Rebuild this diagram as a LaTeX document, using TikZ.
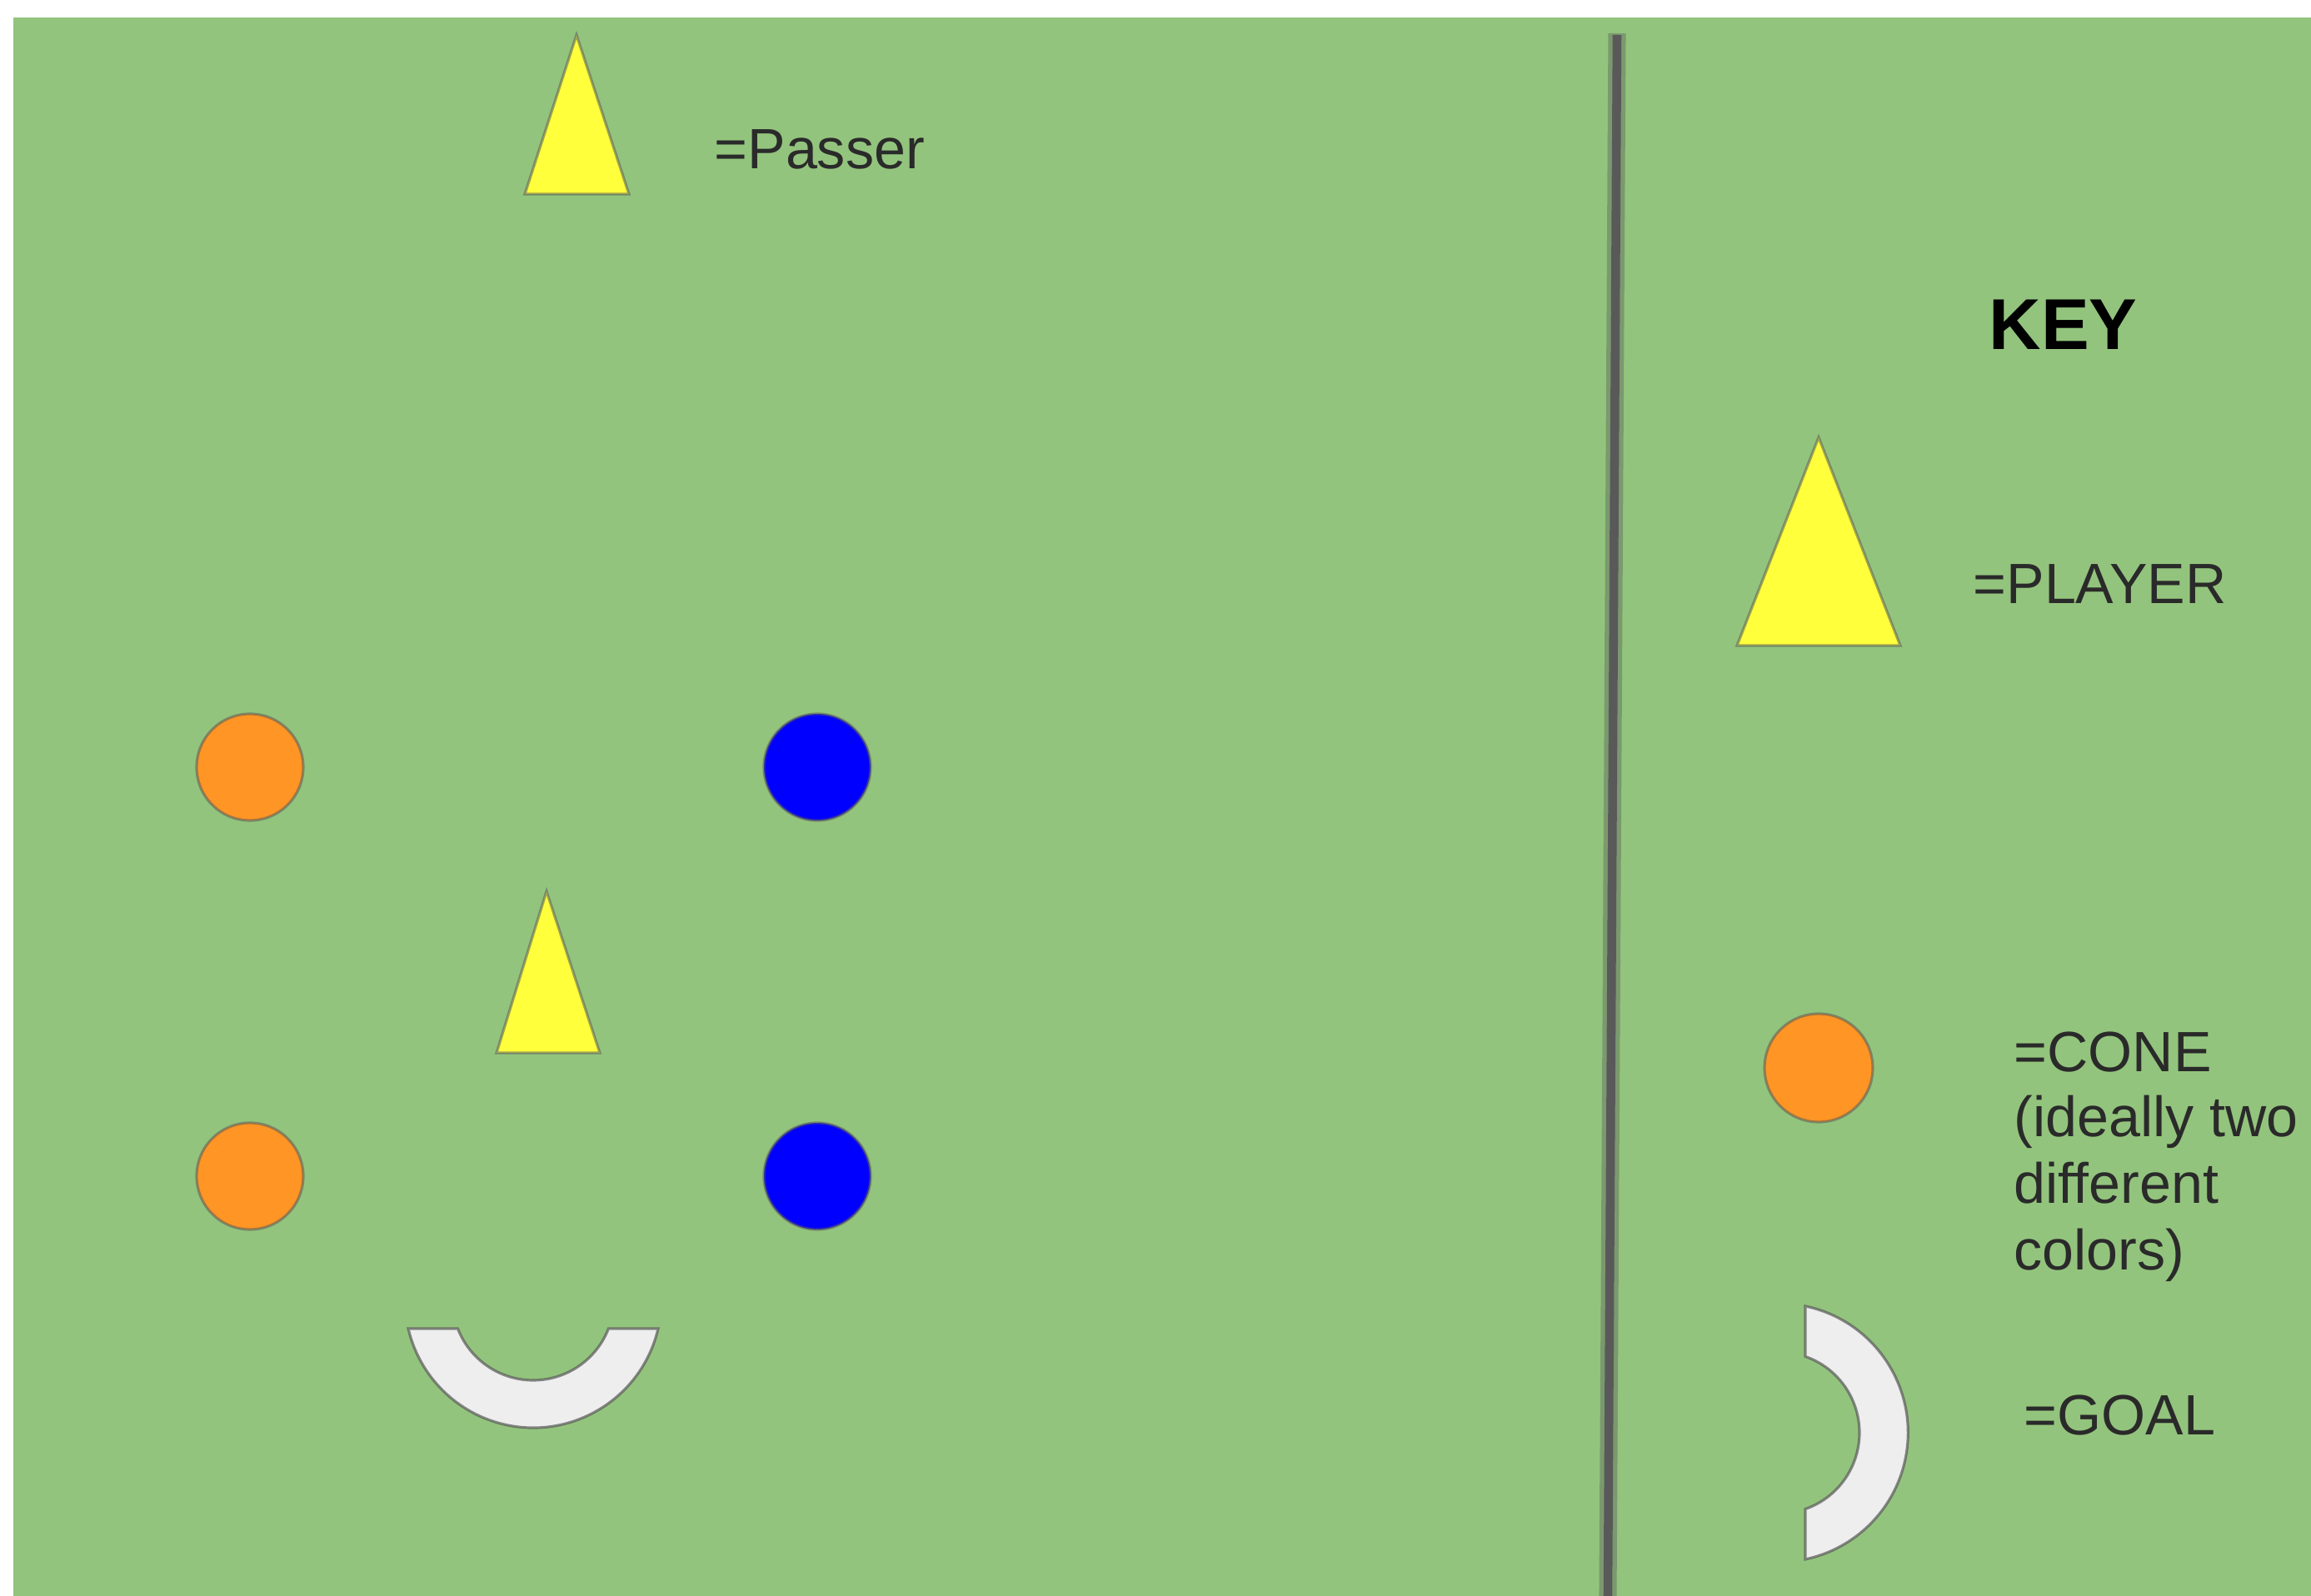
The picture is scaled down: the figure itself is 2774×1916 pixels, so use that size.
\documentclass[tikz,border=0pt]{standalone}
\usepackage{fontspec}
\setmainfont{Liberation Sans}
\definecolor{fieldgreen}{HTML}{93C47D}
\definecolor{playeryellow}{HTML}{FFFF3C}
\definecolor{coneorange}{HTML}{FF9524}
\definecolor{coneblue}{HTML}{0000FF}
\definecolor{goalwhite}{HTML}{EEEEEE}
\definecolor{edgegray}{HTML}{595959}
\definecolor{txt}{HTML}{2A2A2A}
\tikzset{
  shapeedge/.style={draw=edgegray, draw opacity=0.55, line width=0.9pt},
  playershape/.style={shapeedge, fill=playeryellow, line join=miter},
  orangecone/.style={shapeedge, fill=coneorange},
  bluecone/.style={shapeedge, fill=coneblue},
  goalshape/.style={draw=edgegray, draw opacity=0.7, line width=0.9pt, fill=goalwhite},
  label/.style={anchor=base west, inner sep=0pt, text=txt, font=\fontsize{19.4}{22.5}\selectfont},
  keytitle/.style={anchor=base west, inner sep=0pt, text=black, font=\fontsize{24.6}{28}\selectfont\bfseries}
}
\begin{document}
\begin{tikzpicture}[x=0.01cm,y=-0.01cm]
\useasboundingbox (0,0) rectangle (2774,1916);
\fill[white] (0,0) rectangle (2774,1916);
\fill[fieldgreen] (16,21) rectangle (2774,1916);

% divider
\draw[edgegray, opacity=0.4, line width=6pt] (1941,40) -- (1930,1916);
\draw[edgegray, line width=3pt] (1941,42) -- (1930,1916);

% field: passer
\draw[playershape] (692,42) -- (755,233) -- (630,233) -- cycle;
\node[label] (passer) at (857,203) {=Passer};

% field: cones
\draw[orangecone] (300,921) circle (64);
\draw[orangecone] (300,1412) circle (64);
\draw[bluecone] (981,921) circle (64);
\draw[bluecone] (981,1412) circle (64);

% field: player
\draw[playershape] (656,1070) -- (720,1264) -- (596,1264) -- cycle;

% field: goal
\draw[goalshape] (790,1595) arc[start angle=13.13, end angle=166.87, radius=154]
  -- (549.5,1595) arc[start angle=158.85, end angle=21.15, radius=97] -- cycle;

% key
\node[keytitle] (keytitle) at (2387,420) {KEY};
\draw[playershape] (2183,525) -- (2281,775) -- (2085,775) -- cycle;
\node[label] (playerlabel) at (2368,725) {=PLAYER};

\draw[orangecone] (2183,1282) circle (65);
\node[label] (cone1) at (2417,1287) {=CONE};
\node[label] (cone2) at (2417,1365) {(ideally two};
\node[label] (cone3) at (2417,1445) {different};
\node[label] (cone4) at (2417,1525) {colors)};

\draw[goalshape] (2167,1568) arc[start angle=-78.11, end angle=78.11, radius=155.3]
  -- (2167,1811.6) arc[start angle=70.74, end angle=-70.74, radius=97] -- cycle;
\node[label] (goallabel) at (2429,1723) {=GOAL};
\end{tikzpicture}
\end{document}
